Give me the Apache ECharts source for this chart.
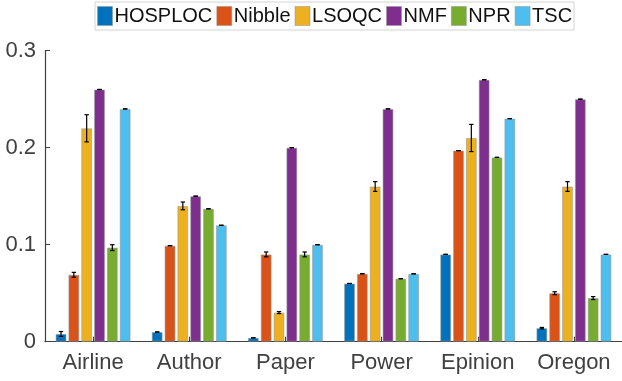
<!DOCTYPE html>
<html>
<head>
<meta charset="utf-8">
<script src="https://cdn.jsdelivr.net/npm/echarts@6/dist/echarts.min.js"></script>
<style>
  html, body { margin: 0; padding: 0; background: #fff; }
  #chart { width: 622px; height: 381px; }
</style>
</head>
<body>
<div id="chart"></div>
<script>
// Graphs on the x axis, one bar per method
const categories = ['Airline', 'Author', 'Paper', 'Power', 'Epinion', 'Oregon'];
const methods = ['HOSPLOC', 'Nibble', 'LSOQC', 'NMF', 'NPR', 'TSC'];
const colors = ['#0072BD', '#D95319', '#EDB120', '#7E2F8E', '#77AC30', '#4DBEEE'];

// Mean score per graph for each method
const hosploc = [0.008, 0.010, 0.004, 0.060, 0.090, 0.014];
const nibble  = [0.069, 0.099, 0.090, 0.070, 0.197, 0.050];
const lsoqc   = [0.220, 0.140, 0.030, 0.160, 0.210, 0.160];
const nmf     = [0.260, 0.150, 0.200, 0.240, 0.270, 0.250];
const npr     = [0.097, 0.137, 0.090, 0.065, 0.190, 0.045];
const tsc     = [0.240, 0.120, 0.100, 0.070, 0.230, 0.090];

// Half-width of the error bar on each mean
const hosplocErr = [0.0025, 0, 0, 0, 0, 0.0007];
const nibbleErr  = [0.0025, 0, 0.0025, 0, 0, 0.0015];
const lsoqcErr   = [0.014, 0.004, 0.001, 0.005, 0.014, 0.005];
const nmfErr     = [0, 0, 0, 0, 0, 0];
const nprErr     = [0.003, 0, 0.0025, 0, 0, 0.0015];
const tscErr     = [0, 0, 0, 0, 0, 0];

// Y axis ticks
const yTicks = [0, 0.1, 0.2, 0.3];

const means = [hosploc, nibble, lsoqc, nmf, npr, tsc];
const errs = [hosplocErr, nibbleErr, lsoqcErr, nmfErr, nprErr, tscErr];

const CAT_GAP = 0.22;
const BAR_GAP = 0.18;

const barSeries = methods.map((name, i) => ({
  name: name,
  type: 'bar',
  data: means[i],
  barCategoryGap: (CAT_GAP * 100) + '%',
  barGap: (BAR_GAP * 100) + '%',
  itemStyle: {
    color: colors[i],
    borderColor: 'rgba(150,150,150,0.55)',
    borderWidth: 1
  },
  emphasis: { disabled: true },
  z: 2
}));

// rows: [category index, method index, mean, error]
const errRows = [];
means.forEach((arr, s) => {
  arr.forEach((v, c) => errRows.push([c, s, v, errs[s][c]]));
});

const errorSeries = {
  name: 'errorbars',
  type: 'custom',
  data: errRows,
  encode: { x: 0, y: 2 },
  z: 5,
  silent: true,
  renderItem: function (params, api) {
    const c = api.value(0);
    const s = api.value(1);
    const v = api.value(2);
    const e = api.value(3);
    const band = api.size([1, 0])[0];
    const usable = band * (1 - CAT_GAP);
    const n = methods.length;
    const w = usable / (n + (n - 1) * BAR_GAP);
    const cx = api.coord([c, 0])[0] - usable / 2 + s * w * (1 + BAR_GAP) + w / 2;
    const yHi = api.coord([c, v + e])[1];
    const yLo = api.coord([c, v - e])[1];
    const cap = 2.2;
    const style = { stroke: '#000', lineWidth: 1.2, fill: null };
    return {
      type: 'group',
      children: [
        { type: 'line', shape: { x1: cx, y1: yHi, x2: cx, y2: yLo }, style: style },
        { type: 'line', shape: { x1: cx - cap, y1: yHi, x2: cx + cap, y2: yHi }, style: style },
        { type: 'line', shape: { x1: cx - cap, y1: yLo, x2: cx + cap, y2: yLo }, style: style }
      ]
    };
  }
};

const chart = echarts.init(document.getElementById('chart'), null, { renderer: 'canvas' });

chart.setOption({
  animation: false,
  backgroundColor: '#fff',
  color: colors,
  textStyle: { fontFamily: '"Liberation Sans", Arial, sans-serif' },
  legend: {
    data: methods,
    left: 95,
    top: 2,
    padding: [4, 2],
    itemWidth: 15,
    itemHeight: 19,
    itemGap: 4,
    borderColor: '#d4d4d4',
    borderWidth: 1,
    backgroundColor: '#fff',
    icon: 'rect',
    selectedMode: false,
    itemStyle: { borderColor: 'rgba(150,150,150,0.55)', borderWidth: 1 },
    textStyle: {
      fontSize: 20,
      color: '#111',
      fontFamily: '"Liberation Sans", Arial, sans-serif',
      padding: [0, 0, 0, -3]
    }
  },
  grid: {
    left: 45,
    right: -7.4,
    top: 50.7,
    bottom: 39.3,
    containLabel: false
  },
  xAxis: {
    type: 'category',
    data: categories,
    boundaryGap: true,
    axisLine: { lineStyle: { color: '#404040', width: 1.2 } },
    axisTick: { show: true, inside: true, alignWithLabel: true, length: 5, lineStyle: { color: '#404040' } },
    axisLabel: {
      fontSize: 22,
      color: '#404040',
      margin: 10,
      fontFamily: '"Liberation Sans", Arial, sans-serif'
    },
    splitLine: { show: false }
  },
  yAxis: {
    type: 'value',
    min: yTicks[0],
    max: yTicks[yTicks.length - 1],
    interval: 0.1,
    axisLine: { show: true, lineStyle: { color: '#404040', width: 1.2 } },
    axisTick: { show: true, inside: true, length: 5, lineStyle: { color: '#404040' } },
    axisLabel: {
      fontSize: 22,
      color: '#404040',
      margin: 9,
      fontFamily: '"Liberation Sans", Arial, sans-serif',
      formatter: function (v) { return String(Math.round(v * 10) / 10); }
    },
    splitLine: { show: false }
  },
  series: barSeries.concat([errorSeries])
});
</script>
</body>
</html>
